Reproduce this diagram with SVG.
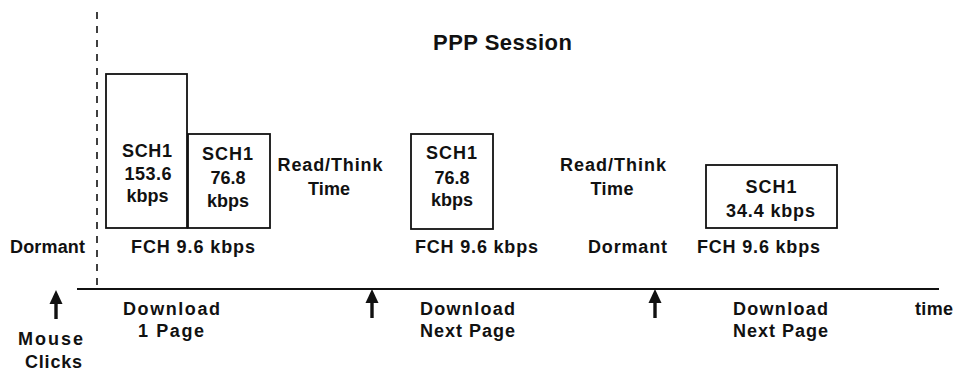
<svg xmlns="http://www.w3.org/2000/svg" width="955" height="372" viewBox="0 0 955 372">
<defs>
<style>
text{font-family:"Liberation Sans",Arial,sans-serif;font-weight:bold;font-size:18px;fill:#111}
.c{text-anchor:middle}
.box{fill:#fff;stroke:#111;stroke-width:1.8}
.ln{stroke:#111;stroke-width:2;fill:none}
.shaft{stroke:#111;stroke-width:3.4}
.head{fill:#111}
</style>
<path id="arrow" d="M0,0 L6.5,14 L-6.5,14 Z"/>
</defs>
<rect width="955" height="372" fill="#fff"/>

<g id="title"><text x="502.5" y="50" class="c" style="font-size:22px" textLength="139" lengthAdjust="spacing">PPP Session</text></g>

<g id="connectors">
<line class="ln" x1="97" y1="12" x2="97" y2="286" stroke-dasharray="7 7" style="stroke-width:1.6"/>
<line class="ln" x1="77" y1="289" x2="939" y2="289"/>
<g id="click-1"><line class="shaft" x1="56" y1="302" x2="56" y2="319"/><use href="#arrow" class="head" x="56" y="290"/></g>
<g id="click-2"><line class="shaft" x1="372" y1="301" x2="372" y2="318"/><use href="#arrow" class="head" x="372" y="289"/></g>
<g id="click-3"><line class="shaft" x1="655" y1="301" x2="655" y2="318"/><use href="#arrow" class="head" x="655" y="289"/></g>
</g>

<g id="sch1-153">
<rect class="box" x="106" y="74" width="81" height="154"/>
<text x="147" y="157" class="c" textLength="50" lengthAdjust="spacing">SCH1</text>
<text x="148" y="180" class="c" textLength="47" lengthAdjust="spacing">153.6</text>
<text x="147.5" y="202" class="c">kbps</text>
</g>

<g id="sch1-76a">
<rect class="box" x="188" y="134" width="82" height="94"/>
<text x="227.5" y="160" class="c" textLength="51" lengthAdjust="spacing">SCH1</text>
<text x="228" y="184" class="c">76.8</text>
<text x="228" y="207" class="c">kbps</text>
</g>

<g id="sch1-76b">
<rect class="box" x="411" y="134" width="82" height="95"/>
<text x="451.5" y="159" class="c" textLength="51" lengthAdjust="spacing">SCH1</text>
<text x="452" y="184" class="c">76.8</text>
<text x="452" y="206" class="c">kbps</text>
</g>

<g id="sch1-34">
<rect class="box" x="706" y="165" width="131" height="63"/>
<text x="771" y="193" class="c" textLength="51" lengthAdjust="spacing">SCH1</text>
<text x="770.5" y="217" class="c" textLength="89" lengthAdjust="spacing">34.4 kbps</text>
</g>

<g id="fch-1"><text x="193" y="253" class="c" textLength="124" lengthAdjust="spacing">FCH 9.6 kbps</text></g>
<g id="fch-2"><text x="476.5" y="253" class="c" textLength="123" lengthAdjust="spacing">FCH 9.6 kbps</text></g>
<g id="fch-3"><text x="758.5" y="253" class="c" textLength="123" lengthAdjust="spacing">FCH 9.6 kbps</text></g>

<g id="dormant-1"><text x="47.5" y="253" class="c" textLength="75" lengthAdjust="spacing">Dormant</text></g>
<g id="dormant-2"><text x="627.5" y="253" class="c" textLength="79" lengthAdjust="spacing">Dormant</text></g>

<g id="think-1">
<text x="330" y="171" class="c" textLength="105" lengthAdjust="spacing">Read/Think</text>
<text x="329" y="195" class="c" textLength="42" lengthAdjust="spacing">Time</text>
</g>
<g id="think-2">
<text x="613" y="171" class="c" textLength="106" lengthAdjust="spacing">Read/Think</text>
<text x="612" y="195" class="c" textLength="43" lengthAdjust="spacing">Time</text>
</g>

<g id="download-1">
<text x="171.5" y="315" class="c" textLength="97" lengthAdjust="spacing">Download</text>
<text x="171" y="337" class="c" textLength="66" lengthAdjust="spacing">1 Page</text>
</g>
<g id="download-2">
<text x="467.5" y="315" class="c" textLength="95" lengthAdjust="spacing">Download</text>
<text x="467.5" y="337" class="c" textLength="95" lengthAdjust="spacing">Next Page</text>
</g>
<g id="download-3">
<text x="780.5" y="315" class="c" textLength="95" lengthAdjust="spacing">Download</text>
<text x="780.5" y="337" class="c" textLength="95" lengthAdjust="spacing">Next Page</text>
</g>

<g id="time"><text x="934" y="315" class="c" textLength="38" lengthAdjust="spacing">time</text></g>

<g id="mouse-clicks">
<text x="50.5" y="345" class="c" textLength="65" lengthAdjust="spacing">Mouse</text>
<text x="53.5" y="368" class="c" textLength="57" lengthAdjust="spacing">Clicks</text>
</g>
</svg>
